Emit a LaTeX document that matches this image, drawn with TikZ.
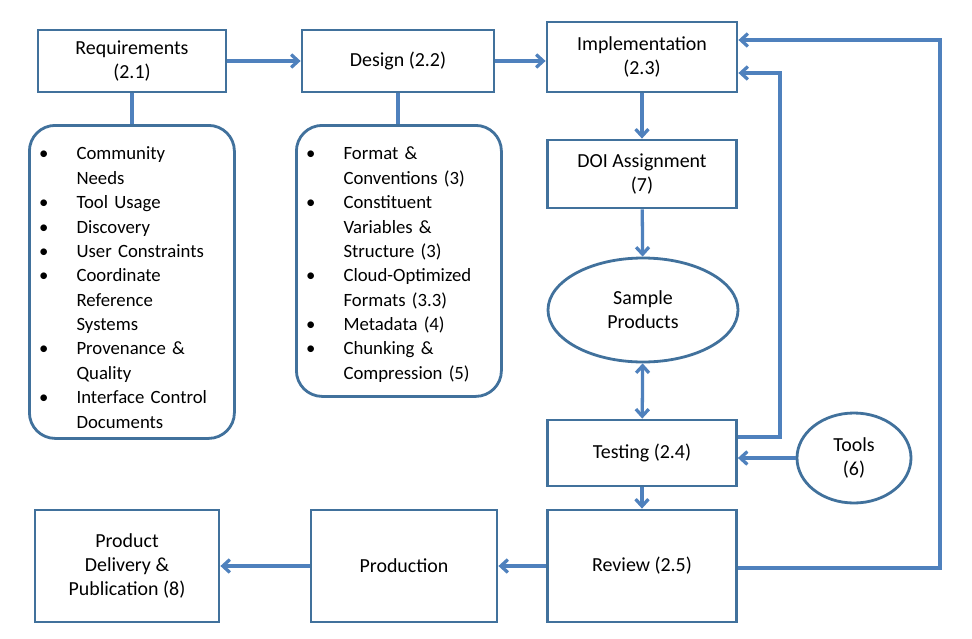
\documentclass[tikz,border=0pt]{standalone}
\usepackage{fontspec}
\setmainfont{Carlito}
\usetikzlibrary{shapes.geometric,arrows.meta}
\definecolor{edge}{HTML}{41719C}
\definecolor{wire}{HTML}{4F81BD}
\tikzset{
  box/.style={rectangle, draw=edge, line width=2.4pt, align=center, inner sep=2pt,
    font=\fontsize{17}{20.5}\selectfont},
  blob/.style={ellipse, draw=edge, line width=2.4pt, align=center, inner sep=0pt,
    font=\fontsize{17}{20.5}\selectfont},
  list/.style={rectangle, rounded corners=22pt, draw=edge, line width=2.4pt,
    anchor=north west, inner sep=0pt},
  items/.style={anchor=north west, text width=#1*0.03cm, inner sep=0pt,
    font=\fontsize{16}{20.8}\selectfont},
  flow/.style={draw=wire, line width=2.8pt, -{Straight Barb[length=6pt,width=11pt]}},
  flows/.style={draw=wire, line width=2.8pt, {Straight Barb[length=6pt,width=11pt]}-{Straight Barb[length=6pt,width=11pt]}},
  tie/.style={draw=wire, line width=2.8pt}
}
\newcommand{\bul}[1]{\item #1}
\newcommand{\setlist}{\setlength{\leftmargini}{31pt}\setlength{\labelsep}{24pt}}
\begin{document}
\begin{tikzpicture}[x=0.03cm, y=-0.03cm]
\useasboundingbox (0,0) rectangle (972,639);
% main boxes
\node[box, minimum width=188*0.03cm, minimum height=62*0.03cm] (req) at (132,61) {Requirements\\(2.1)};
\node[box, minimum width=192*0.03cm, minimum height=62*0.03cm] (des) at (398,61) {Design (2.2)};
\node[box, minimum width=190*0.03cm, minimum height=70*0.03cm] (imp) at (642,57) {Implementation\\(2.3)};
\node[box, minimum width=189*0.03cm, minimum height=68*0.03cm] (doi) at (642,174) {DOI Assignment\\(7)};
\node[blob, minimum width=190*0.03cm, minimum height=104*0.03cm] (smp) at (643,310) {Sample\\Products};
\node[box, minimum width=189*0.03cm, minimum height=66*0.03cm] (tst) at (642,453) {Testing (2.4)};
\node[blob, minimum width=114*0.03cm, minimum height=90*0.03cm] (tools) at (854,458) {Tools\\(6)};
\node[box, minimum width=189*0.03cm, minimum height=112*0.03cm] (rev) at (642,566) {Review (2.5)};
\node[box, minimum width=186*0.03cm, minimum height=112*0.03cm] (prd) at (404,566) {Production};
\node[box, minimum width=184*0.03cm, minimum height=112*0.03cm] (dlv) at (127,566) {Product\\Delivery \&\\Publication (8)};
% lists
\node[list, minimum width=205*0.03cm, minimum height=313*0.03cm] (reql) at (28,124) {};
\node[list, minimum width=205*0.03cm, minimum height=271*0.03cm] (desl) at (295,124) {};
\node[items=175] at (40,126) {\setlist
\begin{itemize}\setlength{\itemsep}{0pt}\setlength{\parskip}{0pt}
\bul{Community Needs}\bul{Tool Usage}\bul{Discovery}\bul{User Constraints}
\bul{Coordinate Reference Systems}\bul{Provenance \& Quality}\bul{Interface Control Documents}
\end{itemize}};
\node[items=185] at (307,126) {\setlist
\begin{itemize}\setlength{\itemsep}{0pt}\setlength{\parskip}{0pt}
\bul{Format \& Conventions (3)}\bul{Constituent Variables \& Structure (3)}
\bul{Cloud-Optimized Formats (3.3)}\bul{Metadata (4)}\bul{Chunking \& Compression (5)}
\end{itemize}};
% connectors
\draw[tie] (req.south) -- (reql.north -| req.south);
\draw[tie] (des.south) -- (desl.north -| des.south);
\draw[flow] (req) -- (des);
\draw[flow] (des.east) -- (imp.west |- des.east);
\draw[flow] (imp) -- (doi);
\draw[flow] (doi) -- (smp);
\draw[flows] (smp) -- (tst);
\draw[flow] (tools) -- (tst.east |- tools);
\draw[flow] (tst.south) -- (rev.north);
\draw[flow] (rev) -- (prd);
\draw[flow] (prd) -- (dlv);
\coordinate (t1) at (780,437);
\coordinate (t2) at (780,73);
\draw[flow] (tst.east |- t1) -- (t1) -- (t2) -- (imp.east |- t2);
\coordinate (r1) at (940,568);
\coordinate (r2) at (940,40);
\draw[flow] (rev.east |- r1) -- (r1) -- (r2) -- (imp.east |- r2);
\end{tikzpicture}
\end{document}
